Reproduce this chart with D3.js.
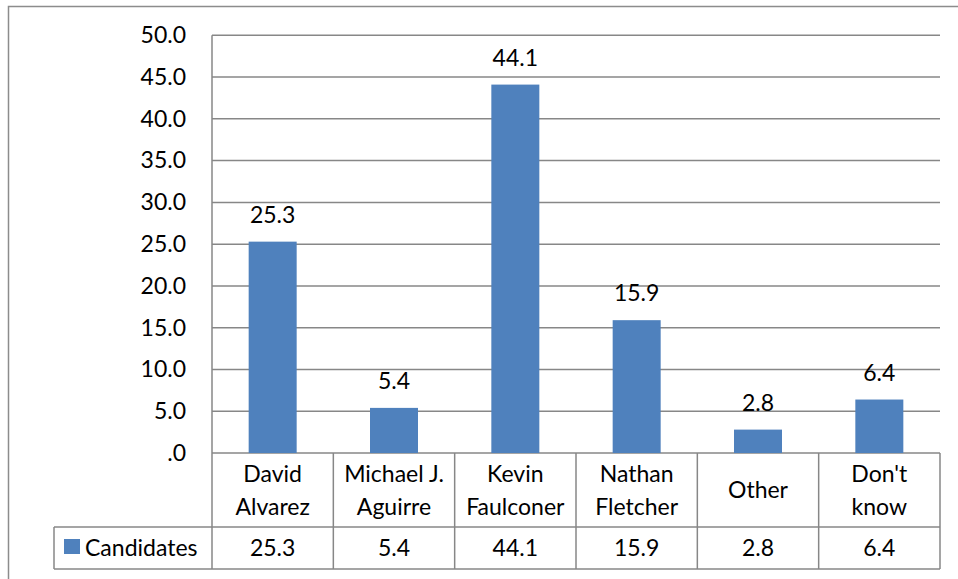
<!DOCTYPE html>
<html>
<head>
<meta charset="utf-8">
<script src="https://cdnjs.cloudflare.com/ajax/libs/d3/7.8.5/d3.min.js"></script>
<style>
  body { margin: 0; background: #fff; }
  svg text { font-family: Lato, "Open Sans", sans-serif; fill: #000; }
</style>
</head>
<body>
<div id="chart"></div>
<script>
// chart data
var categories = [["David", "Alvarez"], ["Michael J.", "Aguirre"], ["Kevin", "Faulconer"],
                  ["Nathan", "Fletcher"], ["Other"], ["Don't", "know"]];
var values = [25.3, 5.4, 44.1, 15.9, 2.8, 6.4];
var seriesName = "Candidates";
var yTicks = [0, 5, 10, 15, 20, 25, 30, 35, 40, 45, 50];

var W = 958, H = 579;
var plotLeft = 212, plotRight = 940, plotTop = 35.3, base = 453;
var catRowBottom = 527, valRowBottom = 569, legendLeft = 54;
var barColor = "#4F81BD", lineColor = "#878787";
var fs = 23;

var svg = d3.select("#chart").append("svg")
    .attr("width", W).attr("height", H);

// outer chart border (runs off the right/bottom edge)
svg.append("rect")
    .attr("x", 8.5).attr("y", 6.5)
    .attr("width", W).attr("height", H)
    .attr("fill", "none").attr("stroke", "#8c8c8c").attr("stroke-width", 1.5);

var idx = values.map(function(d, i) { return i; });
var x = d3.scaleBand().domain(idx).range([plotLeft, plotRight]).paddingInner(0).paddingOuter(0);
var y = d3.scaleLinear().domain([0, 50]).range([base, plotTop]);

// gridlines
svg.append("g").selectAll("line")
    .data(yTicks)
    .enter().append("line")
    .attr("x1", plotLeft).attr("x2", plotRight)
    .attr("y1", function(d) { return y(d); })
    .attr("y2", function(d) { return y(d); })
    .attr("stroke", lineColor).attr("stroke-width", 1.5);

// y axis labels
var yAxis = d3.axisLeft(y).tickValues(yTicks).tickSize(0).tickPadding(26)
    .tickFormat(function(d) { return d === 0 ? ".0" : d3.format(".1f")(d); });
var ya = svg.append("g").attr("transform", "translate(" + plotLeft + ",0)").call(yAxis);
ya.select(".domain").remove();
ya.selectAll("text").style("font-size", fs + "px").style("font-family", "Lato, sans-serif").attr("fill", "#000");

// bars
var bw = 48;
svg.append("g").selectAll("rect")
    .data(values)
    .enter().append("rect")
    .attr("x", function(d, i) { return x(i) + x.bandwidth() / 2 - bw / 2; })
    .attr("y", function(d) { return y(d); })
    .attr("width", bw)
    .attr("height", function(d) { return y(0) - y(d); })
    .attr("fill", barColor);

// data labels
svg.append("g").selectAll("text")
    .data(values)
    .enter().append("text")
    .attr("x", function(d, i) { return x(i) + x.bandwidth() / 2; })
    .attr("y", function(d) { return y(d) - 19; })
    .attr("text-anchor", "middle")
    .style("font-size", fs + "px")
    .text(function(d) { return d3.format(".1f")(d); });

// data table lines
var tbl = svg.append("g").attr("stroke", lineColor).attr("stroke-width", 1.5);
// plot vertical axis line through table
tbl.append("line").attr("x1", plotLeft).attr("x2", plotLeft).attr("y1", plotTop).attr("y2", valRowBottom);
tbl.append("line").attr("x1", plotRight).attr("x2", plotRight).attr("y1", base).attr("y2", valRowBottom);
tbl.append("line").attr("x1", legendLeft).attr("x2", plotRight).attr("y1", catRowBottom).attr("y2", catRowBottom);
tbl.append("line").attr("x1", legendLeft).attr("x2", plotRight).attr("y1", valRowBottom).attr("y2", valRowBottom);
tbl.append("line").attr("x1", legendLeft).attr("x2", legendLeft).attr("y1", catRowBottom).attr("y2", valRowBottom);
tbl.selectAll("line.sep")
    .data(idx.slice(1))
    .enter().append("line").attr("class", "sep")
    .attr("x1", function(i) { return x(i); }).attr("x2", function(i) { return x(i); })
    .attr("y1", base).attr("y2", valRowBottom);

// category labels
var lineH = 33;
var mid = (base + catRowBottom) / 2;
svg.append("g").selectAll("text")
    .data(categories)
    .enter().append("text")
    .attr("text-anchor", "middle")
    .style("font-size", fs + "px")
    .each(function(lines, i) {
        var t = d3.select(this);
        var n = lines.length;
        lines.forEach(function(s, k) {
            t.append("tspan")
                .attr("x", x(i) + x.bandwidth() / 2)
                .attr("y", mid + 8 + (k - (n - 1) / 2) * lineH)
                .text(s);
        });
    });

// value row
var vmid = (catRowBottom + valRowBottom) / 2;
svg.append("g").selectAll("text")
    .data(values)
    .enter().append("text")
    .attr("x", function(d, i) { return x(i) + x.bandwidth() / 2; })
    .attr("y", vmid + 8)
    .attr("text-anchor", "middle")
    .style("font-size", fs + "px")
    .text(function(d) { return d3.format(".1f")(d); });

// legend key in table
svg.append("rect").attr("x", 64).attr("y", 539).attr("width", 16).attr("height", 15).attr("fill", barColor);
svg.append("text").attr("x", 85).attr("y", vmid + 8).style("font-size", fs + "px").text(seriesName);
</script>
</body>
</html>
